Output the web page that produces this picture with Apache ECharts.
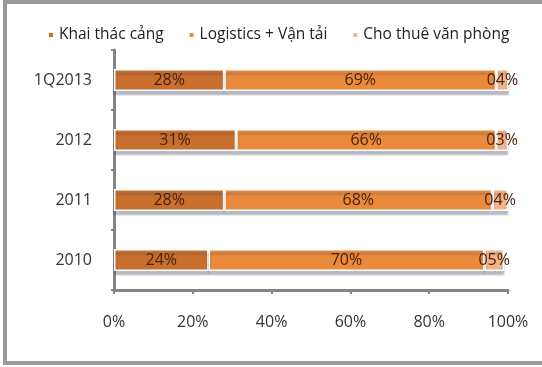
<!DOCTYPE html>
<html><head><meta charset="utf-8">
<script src="https://cdn.jsdelivr.net/npm/echarts@6/dist/echarts.min.js"></script>
<style>html,body{margin:0;padding:0;background:#fff}#c{width:542px;height:367px}</style>
</head><body><div id="c"></div>
<script>
const categories = ['1Q2013', '2012', '2011', '2010'];
const khaiThacCang = [28, 31, 28, 24];
const logisticsVanTai = [69, 66, 68, 70];
const choThueVanPhong = [4, 3, 4, 5];
const xTicks = [0, 20, 40, 60, 80, 100];
const seriesNames = ['Khai thác cảng', 'Logistics + Vận tải', 'Cho thuê văn phòng'];
const colors = ['#C96F2E', '#E98A3C', '#F2B48A'];

const font = 'Open Sans';
const chart = echarts.init(document.getElementById('c'));
function mk(name, data, color) {
  return {
    name, type: 'bar', stack: 'total', data, barWidth: 22,
    itemStyle: { color, borderColor: '#fff', borderWidth: 1.5,
      shadowColor: 'rgba(60,70,90,0.35)', shadowBlur: 2, shadowOffsetY: 4 },
    label: { show: true, position: 'inside', color: '#4a220a', fontFamily: font, fontSize: 16,
      formatter: p => (p.value < 10 ? '0' + p.value : p.value) + '%' }
  };
}
chart.setOption({
  animation: false,
  color: colors,
  graphic: [{ type: 'rect', shape: { x: 5, y: 2, width: 600, height: 361 },
    style: { fill: 'none', stroke: '#9a9a9a', lineWidth: 4 }, z: -1 }],
  legend: {
    top: 22, left: 42, itemWidth: 6, itemHeight: 6, itemGap: 24,
    icon: 'rect',
    textStyle: { fontFamily: font, fontSize: 15.5, color: '#222' },
    data: seriesNames
  },
  grid: { left: 114, right: 34, top: 50, bottom: 77, containLabel: false },
  xAxis: {
    type: 'value', min: 0, max: 100, interval: 20,
    axisLine: { show: true, lineStyle: { color: '#858585', width: 3 } },
    axisTick: { show: true, length: 4, lineStyle: { color: '#858585', width: 2 } },
    splitLine: { show: false },
    axisLabel: { margin: 24, fontFamily: font, fontSize: 16, color: '#333',
      formatter: v => xTicks.includes(v) ? v + '%' : '' }
  },
  yAxis: {
    type: 'category', data: categories, inverse: true,
    axisLine: { show: true, lineStyle: { color: '#858585', width: 3 } },
    axisTick: { show: true, length: 3, lineStyle: { color: '#858585', width: 2 } },
    axisLabel: { margin: 22, fontFamily: font, fontSize: 16, color: '#333' }
  },
  series: [
    mk(seriesNames[0], khaiThacCang, colors[0]),
    mk(seriesNames[1], logisticsVanTai, colors[1]),
    mk(seriesNames[2], choThueVanPhong, colors[2])
  ]
});
</script></body></html>
